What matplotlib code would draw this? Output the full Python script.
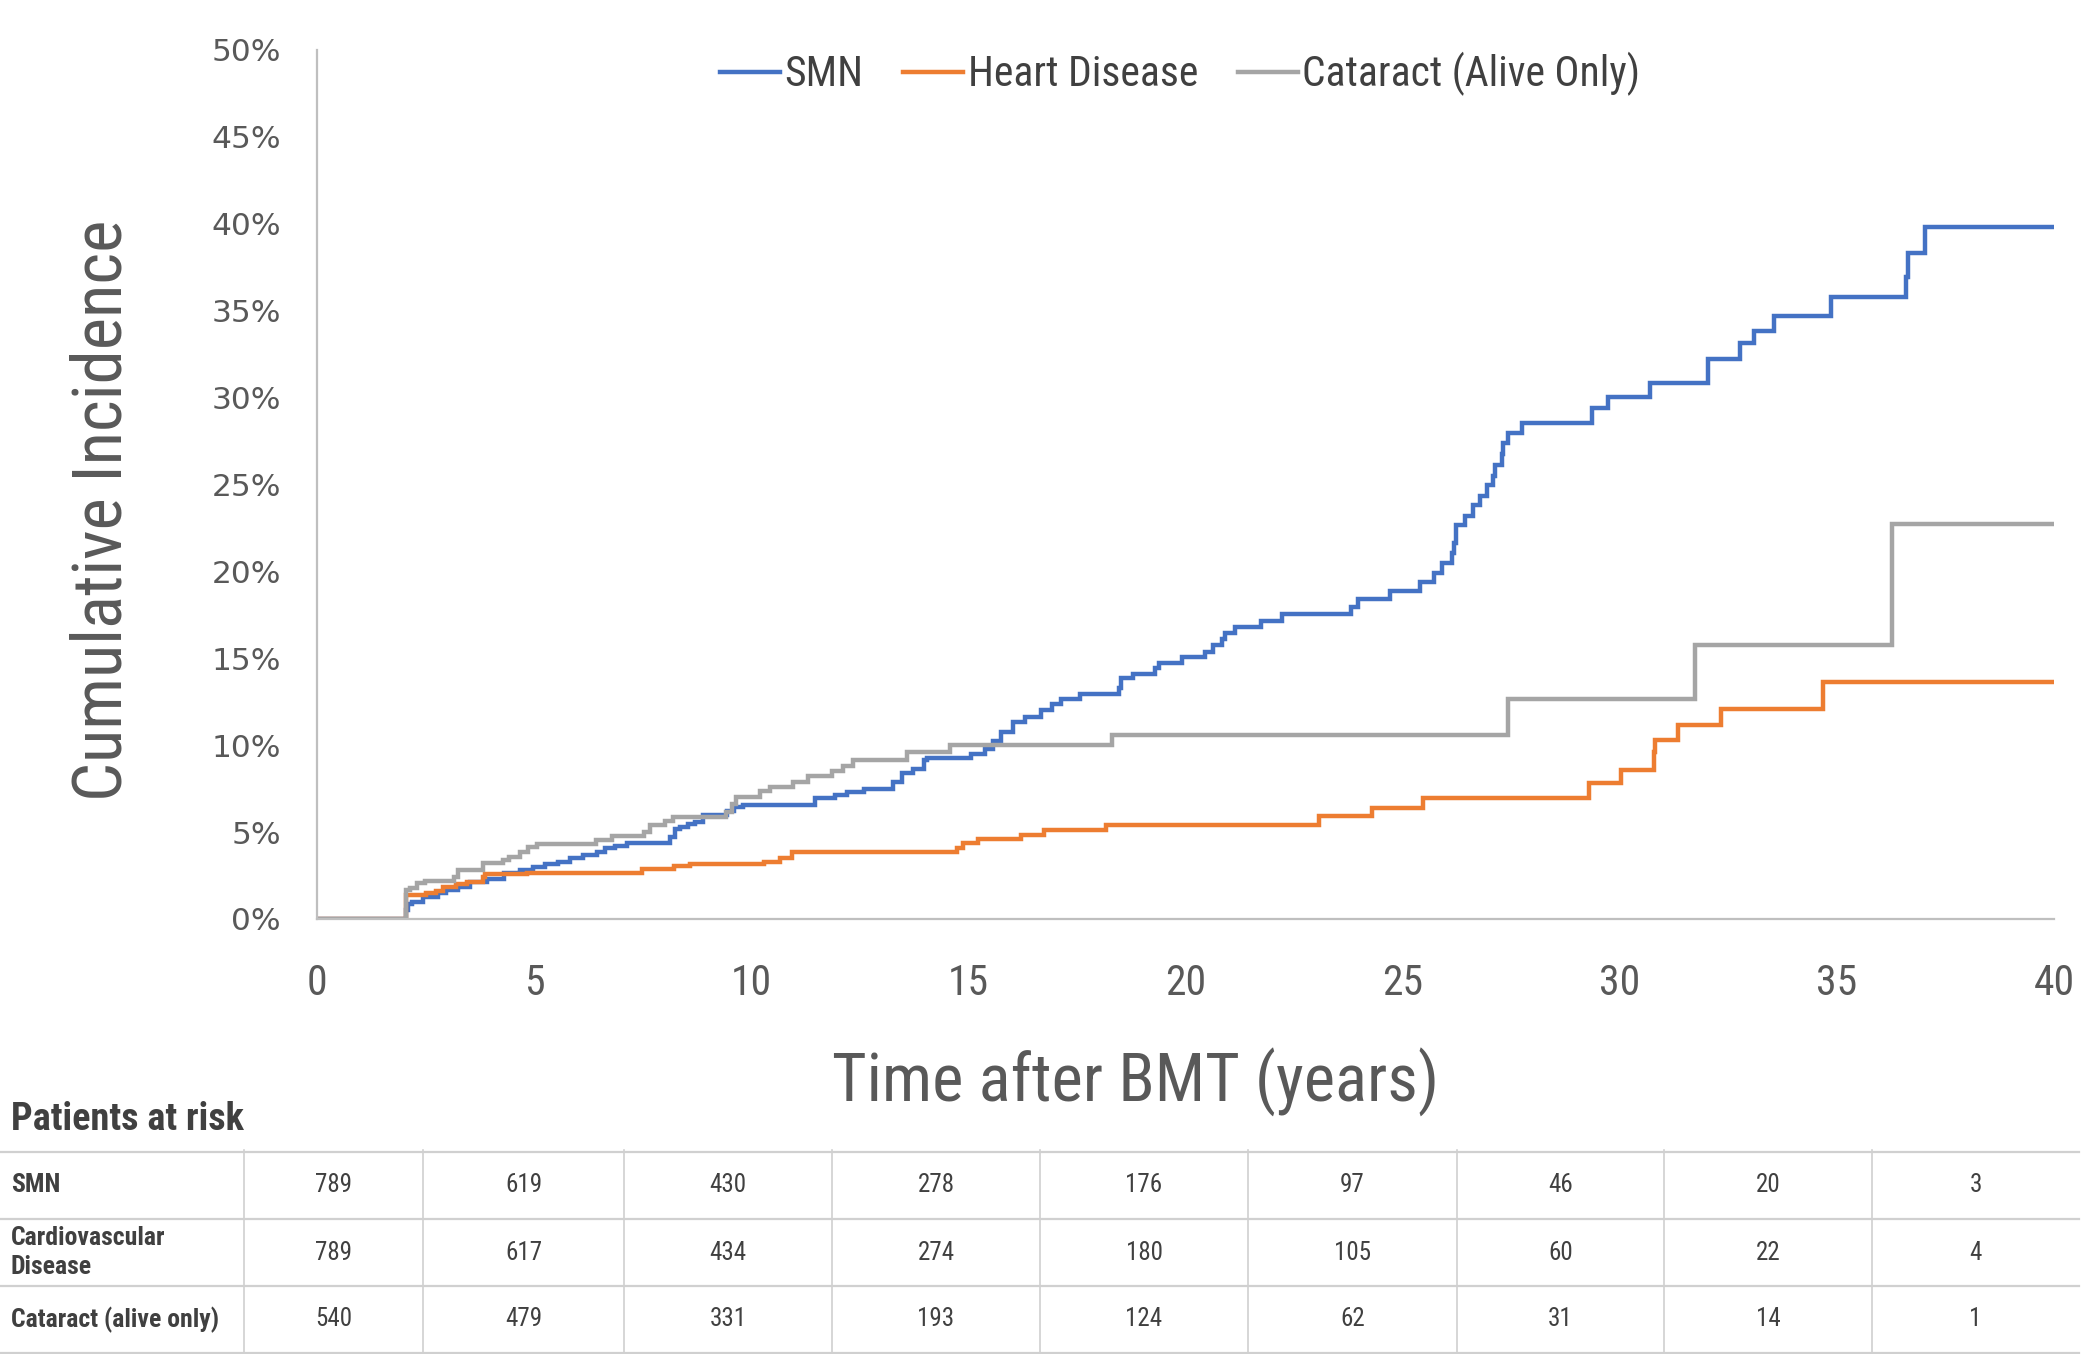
import matplotlib
matplotlib.use('Agg')
import matplotlib.pyplot as plt
from matplotlib import font_manager as fm
from matplotlib.font_manager import FontProperties
from matplotlib.lines import Line2D

# ---------------- data ----------------
smn_t = [0, 2.05, 2.10, 2.18, 2.45, 2.79, 2.98, 3.25, 3.52, 3.91, 4.31, 4.67, 4.98, 5.25, 5.56,
         5.83, 6.13, 6.44, 6.63, 6.86, 7.13, 8.13, 8.24, 8.36, 8.55, 8.70, 8.90, 9.45, 9.60, 9.80,
         11.47, 11.93, 12.20, 12.60, 13.26, 13.46, 13.73, 13.98, 14.04, 15.06, 15.38, 15.57, 15.75,
         16.03, 16.30, 16.67, 16.92, 17.13, 17.57, 18.48, 18.52, 18.78, 19.30, 19.40, 19.93, 20.45,
         20.64, 20.83, 20.91, 21.14, 21.73, 22.23, 23.80, 23.98, 24.71, 25.40, 25.72, 25.91, 26.13,
         26.18, 26.24, 26.44, 26.63, 26.78, 26.95, 27.09, 27.13, 27.28, 27.32, 27.43, 27.74, 29.37,
         29.72, 30.70, 32.03, 32.76, 33.09, 33.56, 34.86, 36.60, 36.63, 37.04, 40]
smn_v = [0, 0.50, 0.84, 1.00, 1.28, 1.47, 1.66, 1.86, 2.14, 2.28, 2.66, 2.82, 2.97, 3.16, 3.29,
         3.49, 3.68, 3.87, 4.06, 4.20, 4.35, 4.73, 5.15, 5.31, 5.46, 5.60, 6.00, 6.20, 6.45, 6.55,
         6.94, 7.13, 7.32, 7.50, 7.90, 8.38, 8.60, 9.14, 9.24, 9.49, 9.76, 10.24, 10.77,
         11.30, 11.63, 12.00, 12.36, 12.67, 12.92, 13.27, 13.84, 14.09, 14.42, 14.74, 15.08, 15.37,
         15.76, 16.08, 16.43, 16.77, 17.15, 17.52, 17.96, 18.38, 18.88, 19.40, 19.91, 20.45, 21.03,
         21.60, 22.66, 23.20, 23.80, 24.30, 24.96, 25.50, 26.10, 26.74, 27.35, 27.93, 28.54, 29.40,
         30.00, 30.80, 32.20, 33.10, 33.80, 34.70, 35.75, 36.90, 38.30, 39.80, 39.80]

heart_t = [0, 2.05, 2.52, 2.74, 2.90, 3.20, 3.45, 3.83, 3.87, 4.83, 7.48, 8.21, 8.60, 10.30,
           10.66, 10.93, 14.73, 14.87, 15.23, 16.21, 16.73, 18.18, 23.07, 24.30, 25.48, 29.30,
           30.04, 30.78, 30.81, 31.35, 32.33, 34.69, 40]
heart_v = [0, 1.38, 1.47, 1.63, 1.82, 2.00, 2.14, 2.42, 2.57, 2.63, 2.86, 3.05, 3.15, 3.30,
           3.49, 3.83, 4.06, 4.35, 4.60, 4.83, 5.12, 5.40, 5.90, 6.38, 6.98, 7.80,
           8.57, 9.60, 10.30, 11.16, 12.10, 13.60, 13.60]

cat_t = [0, 2.05, 2.14, 2.30, 2.49, 3.15, 3.25, 3.83, 4.29, 4.41, 4.67, 4.87, 5.06, 6.42, 6.79,
         7.52, 7.67, 8.01, 8.19, 9.43, 9.55, 9.66, 10.20, 10.43, 10.97, 11.30, 11.85, 12.12,
         12.35, 13.58, 14.58, 18.30, 27.43, 31.73, 36.28, 40]
cat_v = [0, 1.67, 1.80, 2.05, 2.20, 2.43, 2.80, 3.20, 3.37, 3.58, 3.87, 4.12, 4.31, 4.54, 4.79,
         5.00, 5.40, 5.65, 5.88, 6.17, 6.60, 7.00, 7.36, 7.60, 7.90, 8.20, 8.50, 8.80,
         9.14, 9.60, 10.00, 10.60, 12.65, 15.76, 22.70, 22.70]

series_names = ['SMN', 'Heart Disease', 'Cataract (Alive Only)']
series_colors = ['#4472C4', '#ED7D31', '#A5A5A5']

x_ticks = [0, 5, 10, 15, 20, 25, 30, 35, 40]
y_ticks = [0, 5, 10, 15, 20, 25, 30, 35, 40, 45, 50]

risk_rows = ['SMN', 'Cardiovascular\nDisease', 'Cataract (alive only)']
risk_smn = [789, 619, 430, 278, 176, 97, 46, 20, 3]
risk_cardio = [789, 617, 434, 274, 180, 105, 60, 22, 4]
risk_cataract = [540, 479, 331, 193, 124, 62, 31, 14, 1]

# ---------------- fonts ----------------
COND = {'condensed', 'semi-condensed', 'extra-condensed', 'ultra-condensed'}


def is_cond(f):
    st = f.stretch
    if isinstance(st, (int, float)):
        return st < 500
    return str(st) in COND


narrow_choice = None
prefs = ['Liberation Sans Narrow', 'Arial Narrow', 'Roboto Condensed', 'Open Sans Condensed',
         'Noto Sans Condensed', 'DejaVu Sans Condensed']
entries = fm.fontManager.ttflist
for p in prefs:
    hits = [f for f in entries if f.name == p]
    if hits:
        narrow_choice = (p, 'normal')
        break
if narrow_choice is None:
    for fam in ['Roboto', 'Noto Sans', 'Open Sans', 'DejaVu Sans', 'Liberation Sans', 'Lato']:
        hits = [f for f in entries if f.name == fam and is_cond(f)]
        if hits:
            narrow_choice = (fam, hits[0].stretch)
            break
if narrow_choice is None:
    for f in entries:
        n = f.name.lower()
        if 'narrow' in n or 'condensed' in n:
            narrow_choice = (f.name, 'normal')
            break

NARROW_OK = narrow_choice is not None
if NARROW_OK:
    NFAM, NSTR = narrow_choice
    k = 1.0
else:
    NFAM, NSTR = 'Liberation Sans', 'normal'
    k = 0.84


def nfp(size, weight='normal'):
    return FontProperties(family=NFAM, stretch=NSTR, size=size * k, weight=weight)


WIDE = 'DejaVu Sans'

# ---------------- figure ----------------
W, H = 2100, 1354
fig = plt.figure(figsize=(W / 100, H / 100), dpi=100)
ax = fig.add_axes([317 / W, 1 - 919 / H, (2054 - 317) / W, (919 - 49.5) / H])

for t, v, c in zip([smn_t, heart_t, cat_t], [smn_v, heart_v, cat_v], series_colors):
    ax.step(t, v, where='post', color=c, lw=3.2, solid_joinstyle='miter')

ax.set_xlim(0, 40)
ax.set_ylim(0, 50)
for s in ['top', 'right']:
    ax.spines[s].set_visible(False)
for s in ['left', 'bottom']:
    ax.spines[s].set_color('#BFBFBF')
    ax.spines[s].set_linewidth(1.6)
ax.set_xticks(x_ticks)
ax.set_xticklabels([str(x) for x in x_ticks], fontproperties=nfp(30), color='#595959')
ax.set_yticks(y_ticks)
ax.set_yticklabels([f'{y}%' for y in y_ticks], fontfamily=WIDE, fontsize=22.5, color='#595959')
ax.tick_params(axis='both', length=0)
ax.tick_params(axis='x', pad=32)
ax.tick_params(axis='y', pad=26)

# axis titles
fig.text(103 / W, 1 - 510 / H, 'Cumulative Incidence', rotation=90, ha='center', va='center',
         fontproperties=nfp(49.5), color='#595959')
fig.text(1136 / W, 1 - 1082 / H, 'Time after BMT (years)', ha='center', va='center',
         fontproperties=nfp(48), color='#595959')

# legend
handles = [Line2D([0], [0], color=c, lw=3.2) for c in series_colors]
fig.legend(handles, series_names, loc='center', bbox_to_anchor=(1180 / W, 1 - 74 / H),
           ncol=3, frameon=False, handlelength=1.45, handletextpad=0.1, columnspacing=0.95,
           prop=nfp(30), labelcolor='#404040')

# ---------------- risk table ----------------
fig.text(11 / W, 1 - 1120 / H, 'Patients at risk', ha='left', va='center',
         fontproperties=nfp(27.5, 'bold'), color='#404040')

line_c = '#D0D0D0'
h_lines = [1152, 1219, 1286, 1353]
v_lines = [244, 423, 624, 832, 1040, 1248, 1457, 1664, 1872]
right_edge = 2079
for y in h_lines:
    fig.add_artist(Line2D([0, right_edge / W], [1 - y / H, 1 - y / H], color=line_c, lw=1.6,
                          transform=fig.transFigure))
for x in v_lines:
    fig.add_artist(Line2D([x / W, x / W], [1 - 1150 / H, 1 - 1353 / H], color=line_c, lw=1.2,
                          transform=fig.transFigure))

col_edges = v_lines + [right_edge]
row_vals = [risk_smn, risk_cardio, risk_cataract]
for i, (lab, vals) in enumerate(zip(risk_rows, row_vals)):
    yc = (h_lines[i] + h_lines[i + 1]) / 2
    fig.text(11 / W, 1 - yc / H, lab, ha='left', va='center', fontproperties=nfp(18.5, 'bold'),
             color='#404040', linespacing=1.3)
    for j, v in enumerate(vals):
        xc = (col_edges[j] + col_edges[j + 1]) / 2
        fig.text(xc / W, 1 - yc / H, str(v), ha='center', va='center', fontproperties=nfp(18),
                 color='#404040')

fig.savefig('out.png', dpi=100)
